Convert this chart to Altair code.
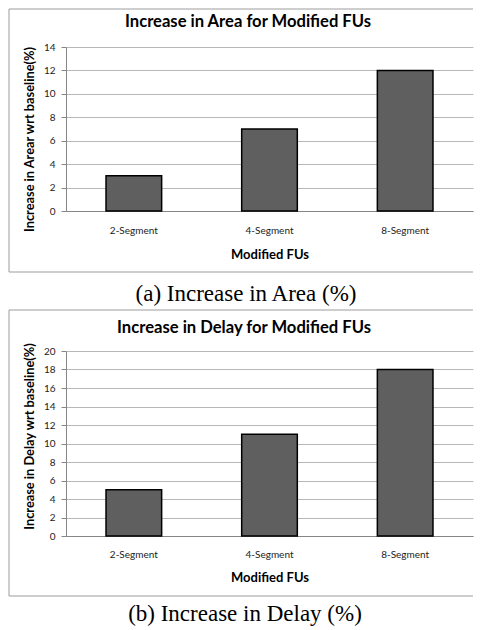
import altair as alt
import pandas as pd

categories = ["2-Segment", "4-Segment", "8-Segment"]
area_increase = [3, 7, 12]
delay_increase = [5, 11, 18]

titles = ["Increase in Area for Modified FUs", "Increase in Delay for Modified FUs"]
y_titles = ["Increase in Arear wrt baseline(%)", "Increase in Delay wrt baseline(%)"]
x_title = "Modified FUs"
captions = ["(a) Increase in Area (%)", "(b) Increase in Delay (%)"]

SANS = "Lato"
SERIF = "Liberation Serif"
W = 407


def panel(values, ymax, height, title, ytitle, caption, ytitle_y, xtitle_y, xlabel_pad,
          border_top, border_bottom, title_x, title_y, cap_x, cap_y):
    df = pd.DataFrame({"cat": categories, "val": values})
    bars = alt.Chart(df).mark_bar(
        fill="#5f5f5f", stroke="#000000", strokeWidth=1.5
    ).encode(
        x=alt.X("cat:N", sort=categories,
                scale=alt.Scale(paddingInner=0.59, paddingOuter=0.295),
                axis=alt.Axis(title=x_title, labelAngle=0, ticks=False,
                              labelPadding=xlabel_pad, labelBaseline="middle",
                              labelFont=SANS, labelFontSize=10, labelColor="#222222",
                              domainColor="#868686", grid=False,
                              titleFont=SANS, titleFontSize=13, titleFontWeight="bold",
                              titleColor="#000000", titleBaseline="alphabetic",
                              titleY=xtitle_y)),
        y=alt.Y("val:Q",
                scale=alt.Scale(domain=[0, ymax], nice=False),
                axis=alt.Axis(title=ytitle, values=list(range(0, ymax + 1, 2)),
                              tickSize=5, labelPadding=6, tickColor="#868686",
                              domainColor="#868686", gridColor="#b8b8b8",
                              labelFont=SANS, labelFontSize=10, labelColor="#222222",
                              titleFont=SANS, titleFontSize=12.8, titleFontWeight="bold",
                              titleColor="#000000", titleAngle=270, titleAlign="center",
                              titleBaseline="middle", titleX=-37, titleY=ytitle_y)),
    )
    one = pd.DataFrame({"k": [0]})
    left = alt.Chart(one).mark_rule(color="#9c9c9c", strokeWidth=1).encode(
        x=alt.value(-57), y=alt.value(border_top), y2=alt.value(border_bottom))
    top = alt.Chart(one).mark_rule(color="#9c9c9c", strokeWidth=1).encode(
        x=alt.value(-57), x2=alt.value(W), y=alt.value(border_top))
    bottom = alt.Chart(one).mark_rule(color="#9c9c9c", strokeWidth=1).encode(
        x=alt.value(-57), x2=alt.value(W), y=alt.value(border_bottom))
    ttl = alt.Chart(one).mark_text(
        font=SANS, fontSize=16.6, fontWeight="bold", color="#000000",
        align="center", baseline="alphabetic"
    ).encode(x=alt.value(title_x), y=alt.value(title_y), text=alt.value(title))
    cap = alt.Chart(one).mark_text(
        font=SERIF, fontSize=23, color="#000000",
        align="center", baseline="alphabetic"
    ).encode(x=alt.value(cap_x), y=alt.value(cap_y), text=alt.value(caption))
    return alt.layer(left, top, bottom, bars, ttl, cap).properties(width=W, height=height)


c1 = panel(area_increase, 14, 164, titles[0], y_titles[0], captions[0],
           ytitle_y=92, xtitle_y=47, xlabel_pad=19, border_top=-38, border_bottom=225,
           title_x=182, title_y=-20, cap_x=180, cap_y=254)
c2 = panel(delay_increase, 20, 185, titles[1], y_titles[1], captions[1],
           ytitle_y=85, xtitle_y=45, xlabel_pad=18, border_top=-41, border_bottom=245,
           title_x=178, title_y=-18, cap_x=179, cap_y=270)

chart = alt.vconcat(c1, c2, spacing=140, bounds="flush").properties(
    padding=0, background="#ffffff"
).configure_view(stroke=None)

chart.save("out.html", embed_options={"renderer": "svg", "actions": False})
